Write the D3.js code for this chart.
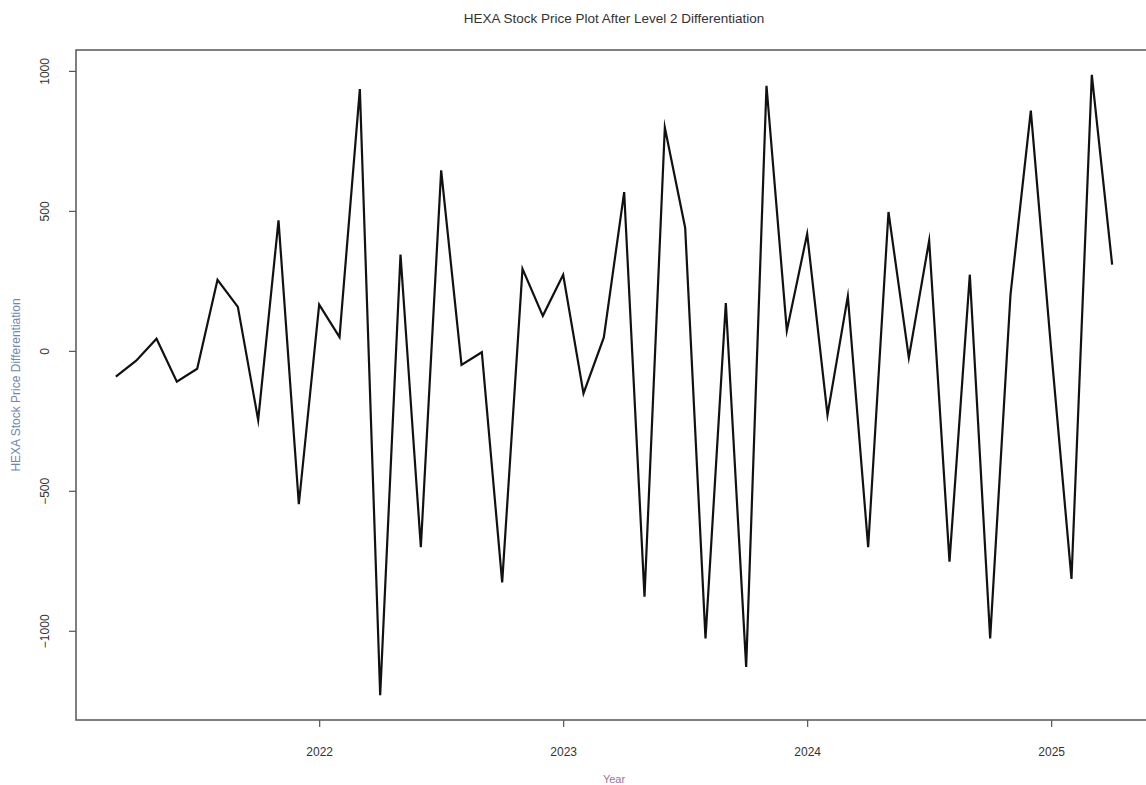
<!DOCTYPE html>
<html>
<head>
<meta charset="utf-8">
<script src="https://cdn.jsdelivr.net/npm/d3@7"></script>
<style>
  body { margin: 0; background: #fff; }
  #chart { width: 1146px; height: 785px; overflow: hidden; }
  text { font-family: "Liberation Sans", Arial, sans-serif; }
</style>
</head>
<body>
<div id="chart"></div>
<script>
// monthly series, starts 2021-03
let startYear = 2021;
let startMonth = 3;
let diffValues = [
    -92, -35, 43, -110, -64, 254, 157, -247, 466, -548,
    165, 49, 935, -1230, 344, -701, 645, -50, -5, -827,
    293, 125, 272, -152, 48, 567, -878, 798, 440, -1027,
    171, -1129, 947, 72, 418, -229, 195, -701, 496, -24,
    394, -753, 272, -1027, 200, 858, 5, -815, 986, 308
];
let yearTicks = [2022, 2023, 2024, 2025];
let valueTicks = [-1000, -500, 0, 500, 1000];

let titleText = 'HEXA Stock Price Plot After Level 2 Differentiation';
let xLabel = 'Year';
let yLabel = 'HEXA Stock Price Differentiation';

let width = 1146;
let height = 785;
let box = {left: 76, right: 1152, top: 50, bottom: 720};

initChart();

function initChart() {
    let data = diffValues.map(function(v, i) {
        return {t: startYear + (startMonth - 1 + i) / 12, v: v};
    });

    let svg = d3.select('#chart').append('svg')
        .attr('width', width)
        .attr('height', height);

    // R style 4% padding
    let tExt = d3.extent(data, d => d.t);
    let vExt = d3.extent(data, d => d.v);
    let tPad = (tExt[1] - tExt[0]) * 0.04;
    let vPad = (vExt[1] - vExt[0]) * 0.04;

    let x = d3.scaleLinear()
        .domain([tExt[0] - tPad, tExt[1] + tPad])
        .range([box.left, box.right]);
    let y = d3.scaleLinear()
        .domain([vExt[0] - vPad, vExt[1] + vPad])
        .range([box.bottom, box.top]);

    // x axis
    let xAxis = svg.append('g')
        .attr('transform', 'translate(0,' + box.bottom + ')')
        .call(d3.axisBottom(x).tickValues(yearTicks).tickFormat(d3.format('d')).tickSize(7).tickPadding(20));
    xAxis.select('.domain').remove();
    xAxis.selectAll('line').attr('stroke', '#555').attr('stroke-width', 1.2);
    xAxis.selectAll('text').attr('fill', '#333').style('font-size', '12px');

    // y axis
    let yAxis = svg.append('g')
        .attr('transform', 'translate(' + box.left + ',0)')
        .call(d3.axisLeft(y).tickValues(valueTicks).tickFormat(d3.format('d')).tickSize(7).tickPadding(0));
    yAxis.select('.domain').remove();
    yAxis.selectAll('line').attr('stroke', '#555').attr('stroke-width', 1.2);
    yAxis.selectAll('text')
        .attr('fill', '#333')
        .style('font-size', '12px')
        .attr('text-anchor', 'middle')
        .attr('x', 0)
        .attr('dy', 0)
        .attr('transform', 'translate(-27,0) rotate(-90)');

    // plot box
    svg.append('rect')
        .attr('x', box.left)
        .attr('y', box.top)
        .attr('width', box.right - box.left)
        .attr('height', box.bottom - box.top)
        .attr('fill', 'none')
        .attr('stroke', '#555')
        .attr('stroke-width', 1.5);

    // series
    let line = d3.line()
        .x(d => x(d.t))
        .y(d => y(d.v));

    svg.append('path')
        .datum(data)
        .attr('d', line)
        .attr('fill', 'none')
        .attr('stroke', '#111')
        .attr('stroke-width', 2.2)
        .attr('stroke-linejoin', 'miter')
        .attr('stroke-miterlimit', 10);

    // labels
    svg.append('text')
        .attr('x', (box.left + box.right) / 2)
        .attr('y', 23)
        .attr('text-anchor', 'middle')
        .attr('fill', '#333')
        .style('font-size', '13.5px')
        .text(titleText);

    svg.append('text')
        .attr('x', (box.left + box.right) / 2)
        .attr('y', 783)
        .attr('text-anchor', 'middle')
        .attr('fill', '#9c7497')
        .style('font-size', '11px')
        .text(xLabel);

    svg.append('text')
        .attr('transform', 'translate(20,' + ((box.top + box.bottom) / 2) + ') rotate(-90)')
        .attr('text-anchor', 'middle')
        .attr('fill', '#6f86ad')
        .style('font-size', '12px')
        .text(yLabel);
}
</script>
</body>
</html>
